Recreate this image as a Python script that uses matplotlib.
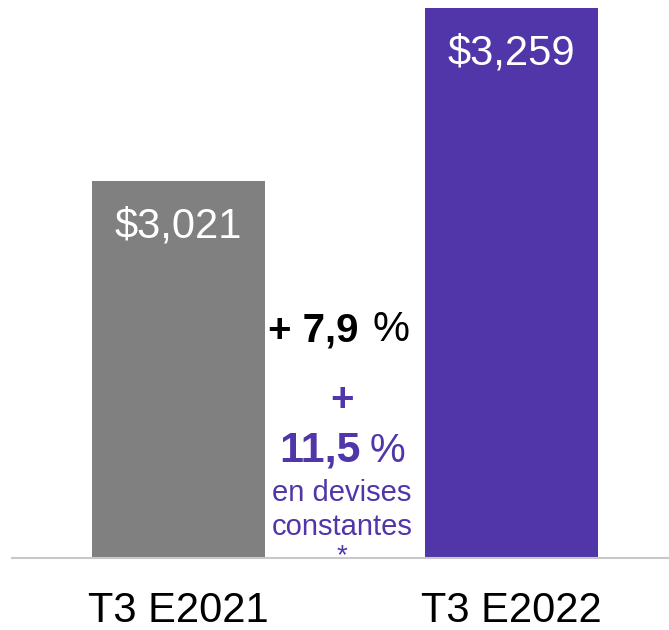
import matplotlib
matplotlib.use("Agg")
import matplotlib.pyplot as plt

plt.rcParams['font.family'] = ['Liberation Sans', 'DejaVu Sans']

categories = ["T3 E2021", "T3 E2022"]
values = [3021, 3259]
value_labels = ["$3,021", "$3,259"]
bar_colors = ["#808080", "#5036A9"]
purple = "#5036A9"

W, H = 669, 630
fig = plt.figure(figsize=(W / 100, H / 100), dpi=100)
ax = fig.add_axes([0, (H - 558) / H, 1, 558 / H])

x = [0, 1]
ax.bar(x, values, width=0.52, color=bar_colors, zorder=2)
ax.set_xlim(-178.5 / 333, (W - 178.5) / 333)
ax.set_ylim(2502, 3270)

for s in ["top", "right", "left"]:
    ax.spines[s].set_visible(False)
ax.spines["bottom"].set_color("#C8C8C8")
ax.spines["bottom"].set_linewidth(1.5)
ax.spines["bottom"].set_bounds(-0.5, (W - 178.5) / 333)
ax.set_yticks([])
ax.set_xticks(x)
ax.set_xticklabels(categories, fontsize=30)
ax.tick_params(axis="x", length=0, pad=24)

for xi, v, lab in zip(x, values, value_labels):
    ax.annotate(lab, (xi, v), xytext=(0, -33), textcoords="offset points",
                ha="center", va="center", color="white", fontsize=30)

def fx(px):
    return px / W

def fy(py):
    return 1 - py / H

# "+ 7,9 %"
fig.text(fx(359), fy(330), "+ 7,9", ha="right", va="center", fontsize=29,
         fontweight="bold", color="black")
fig.text(fx(373), fy(330), "%", ha="left", va="center", fontsize=30, color="black")
# "+" purple
fig.text(fx(342), fy(400), "+", ha="center", va="center", fontsize=29,
         fontweight="bold", color=purple)
fig.text(fx(361), fy(451), "11,5", ha="right", va="center", fontsize=31,
         fontweight="bold", color=purple)
fig.text(fx(370), fy(451), "%", ha="left", va="center", fontsize=29, color=purple)
fig.text(fx(342), fy(493), "en devises", ha="center", va="center", fontsize=21,
         color=purple)
fig.text(fx(342), fy(527), "constantes", ha="center", va="center", fontsize=21,
         color=purple)
fig.text(fx(342), fy(556), "*", ha="center", va="center", fontsize=20,
         color=purple)

fig.savefig("out.png", dpi=100)
